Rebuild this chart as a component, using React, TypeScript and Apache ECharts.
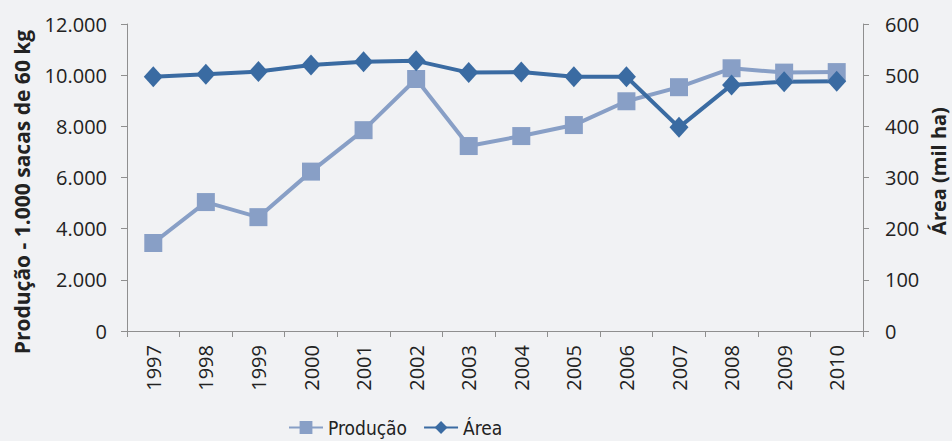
import React, { useEffect, useRef } from "react";
import * as echarts from "echarts";

const years = ["1997","1998","1999","2000","2001","2002","2003","2004","2005","2006","2007","2008","2009","2010"];
const producao = [3440, 5040, 4450, 6230, 7850, 9850, 7230, 7620, 8050, 8980, 9530, 10270, 10100, 10120];
const area = [497, 502, 507, 520, 526, 528, 505, 506, 497, 497, 398, 481, 487, 488];
const leftTitle = "Produção - 1.000 sacas de 60 kg";
const rightTitle = "Área (mil ha)";

const FONT = "'Open Sans', 'Noto Sans', sans-serif";
const NARROW = "'Liberation Sans Narrow', 'DejaVu Sans Condensed', 'Open Sans', sans-serif";
const TXT = "#222";
const AX = "#8f8f8f";

function fmt(v: number) {
  return String(v).replace(/\B(?=(\d{3})+(?!\d))/g, ".");
}

export default function App() {
  const ref = useRef<HTMLDivElement>(null);
  useEffect(() => {
    if (!ref.current) return;
    const chart = echarts.init(ref.current, null, { renderer: "svg" });
    chart.setOption({
      animation: false,
      backgroundColor: "#f1f2f4",
      grid: { left: 127, right: 89, top: 24, bottom: 110 },
      legend: {
        left: 283,
        top: 413,
        itemWidth: 34,
        itemHeight: 16,
        itemGap: 16,
        textStyle: { fontFamily: NARROW, fontSize: 19, color: TXT },
        data: ["Produção", "Área"],
      },
      xAxis: {
        type: "category",
        data: years,
        boundaryGap: true,
        axisLine: { lineStyle: { color: AX, width: 1 } },
        axisTick: { show: true, length: 6, lineStyle: { color: AX } },
        axisLabel: { rotate: 90, margin: 14, fontFamily: FONT, fontSize: 20, color: TXT },
      },
      yAxis: [
        {
          type: "value",
          min: 0,
          max: 12000,
          interval: 2000,
          splitLine: { show: false },
          axisLine: { show: true, lineStyle: { color: AX } },
          axisTick: { show: true, length: 6, lineStyle: { color: AX } },
          axisLabel: { margin: 20, fontFamily: FONT, fontSize: 20, color: TXT, formatter: (v: number) => fmt(v) },
        },
        {
          type: "value",
          min: 0,
          max: 600,
          interval: 100,
          position: "right",
          splitLine: { show: false },
          axisLine: { show: true, lineStyle: { color: AX } },
          axisTick: { show: true, length: 6, lineStyle: { color: AX } },
          axisLabel: { margin: 22, fontFamily: FONT, fontSize: 20, color: TXT },
        },
      ],
      graphic: [
        {
          type: "text",
          x: 22,
          y: 192,
          rotation: Math.PI / 2,
          style: { text: leftTitle, x: 0, y: 0, fontFamily: FONT, fontSize: 21, fontWeight: "bold", fill: TXT, align: "center", verticalAlign: "middle" },
        },
        {
          type: "text",
          x: 938,
          y: 171,
          rotation: Math.PI / 2,
          style: { text: rightTitle, x: 0, y: 0, fontFamily: FONT, fontSize: 20, fontWeight: "bold", fill: TXT, align: "center", verticalAlign: "middle" },
        },
      ],
      series: [
        {
          name: "Produção",
          type: "line",
          yAxisIndex: 0,
          data: producao,
          symbol: "rect",
          symbolSize: 18,
          lineStyle: { color: "#889fc6", width: 4 },
          itemStyle: { color: "#889fc6" },
        },
        {
          name: "Área",
          type: "line",
          yAxisIndex: 1,
          data: area,
          symbol: "diamond",
          symbolSize: [19, 21],
          lineStyle: { color: "#3a6ba2", width: 4 },
          itemStyle: { color: "#3a6ba2" },
        },
      ],
    });
    return () => chart.dispose();
  }, []);
  return <div ref={ref} style={{ width: 952, height: 441, position: "absolute", left: 0, top: 0 }} />;
}
